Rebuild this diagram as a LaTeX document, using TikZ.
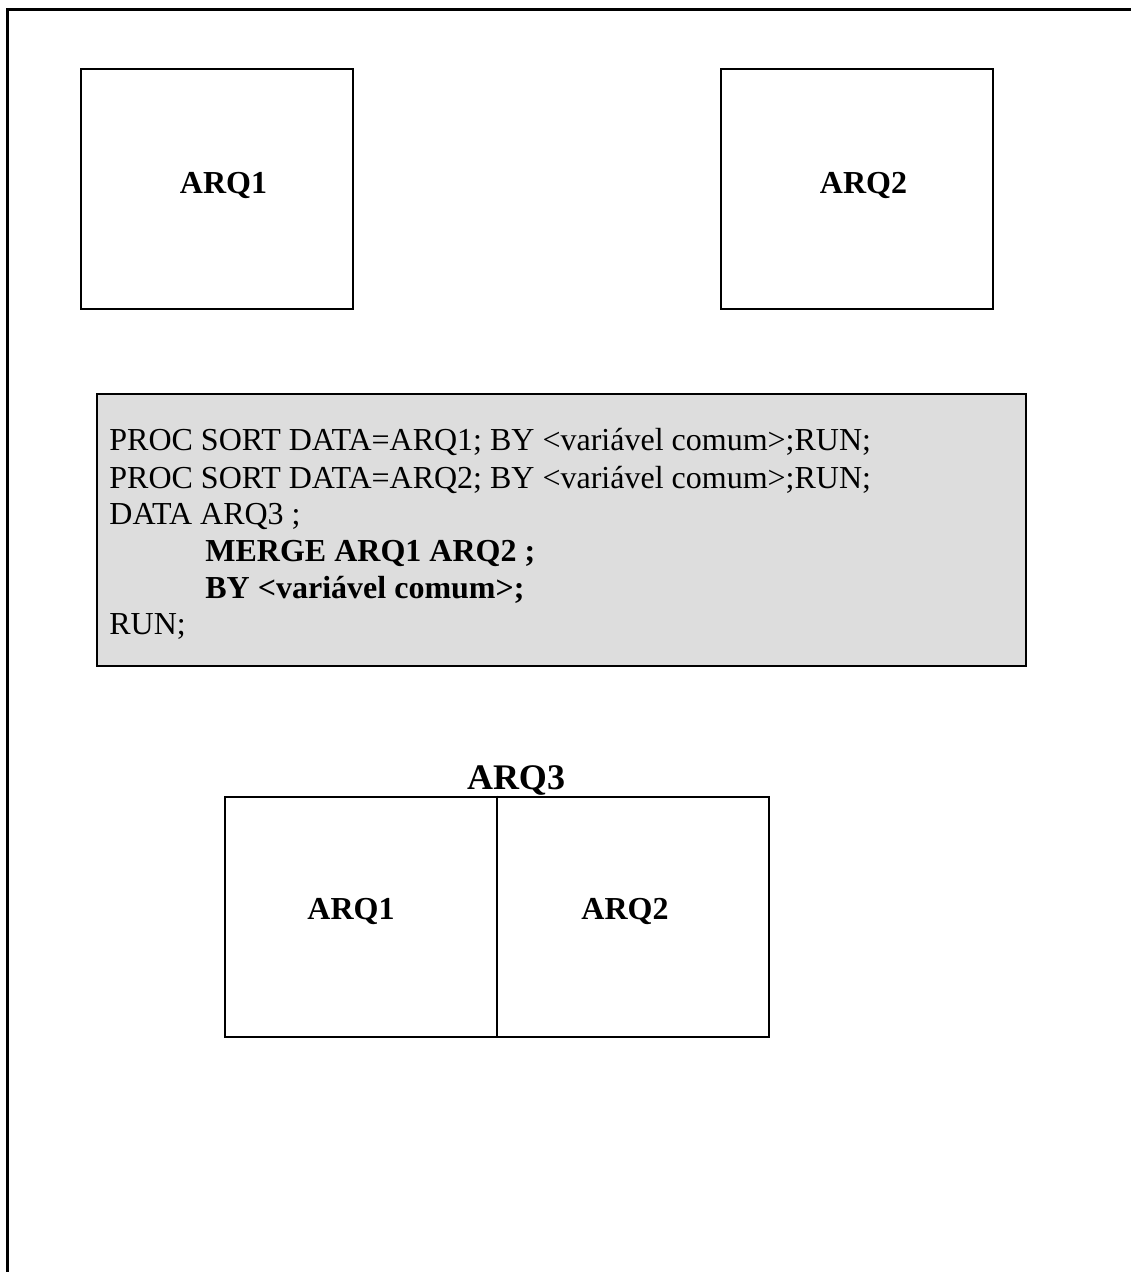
\documentclass[tikz,border=0pt]{standalone}
\usepackage{fontspec}
\setmainfont{Liberation Serif}
\begin{document}
\begin{tikzpicture}[x=0.5pt,y=-0.5pt,
  box/.style={draw=black,line width=1pt,inner sep=0pt},
  lbl/.style={font=\fontsize{16}{19}\selectfont\bfseries,inner sep=0pt,anchor=base},
  code/.style={font=\fontsize{16}{18.35}\selectfont,inner sep=0pt,anchor=base west,align=left}]
\useasboundingbox (0,0) rectangle (1130,1272);
% outer frame (cut at right and bottom)
\draw[line width=1.5pt] (7.5,1280) -- (7.5,9.5) -- (1140,9.5);
% top boxes
\node[box,minimum width=136pt,minimum height=120pt] (b1) at (217,189) {};
\node[box,minimum width=136pt,minimum height=120pt] (b2) at (857,189) {};
\node[lbl] (t1) at (223.5,194) {ARQ1};
\node[lbl] (t2) at (863.5,194) {ARQ2};
% code box
\node[box,fill={rgb,255:red,221;green,221;blue,221},minimum width=464.5pt,minimum height=136pt] (cb) at (561.5,530) {};
\node[code] (c1) at (109,451) {PROC SORT DATA=ARQ1; BY <variável comum>;RUN;};
\node[code] (c2) at (109,488) {PROC SORT DATA=ARQ2; BY <variável comum>;RUN;};
\node[code] (c3) at (109,524) {DATA ARQ3 ;};
\node[code,font=\fontsize{16}{18.35}\selectfont\bfseries] (c4) at (205,561) {MERGE ARQ1 ARQ2 ;};
\node[code,font=\fontsize{16}{18.35}\selectfont\bfseries] (c5) at (205,598) {BY <variável comum>;};
\node[code] (c6) at (109,634) {RUN;};
% result box
\node[box,minimum width=272pt,minimum height=120pt] (r) at (497,916.5) {};
\draw[line width=1pt] (r.north) -- (r.south);
\node[lbl,font=\fontsize{18}{21}\selectfont\bfseries] (t3) at (516,789) {ARQ3};
\node[lbl] (r1) at (351,919) {ARQ1};
\node[lbl] (r2) at (625,919) {ARQ2};
\end{tikzpicture}
\end{document}
